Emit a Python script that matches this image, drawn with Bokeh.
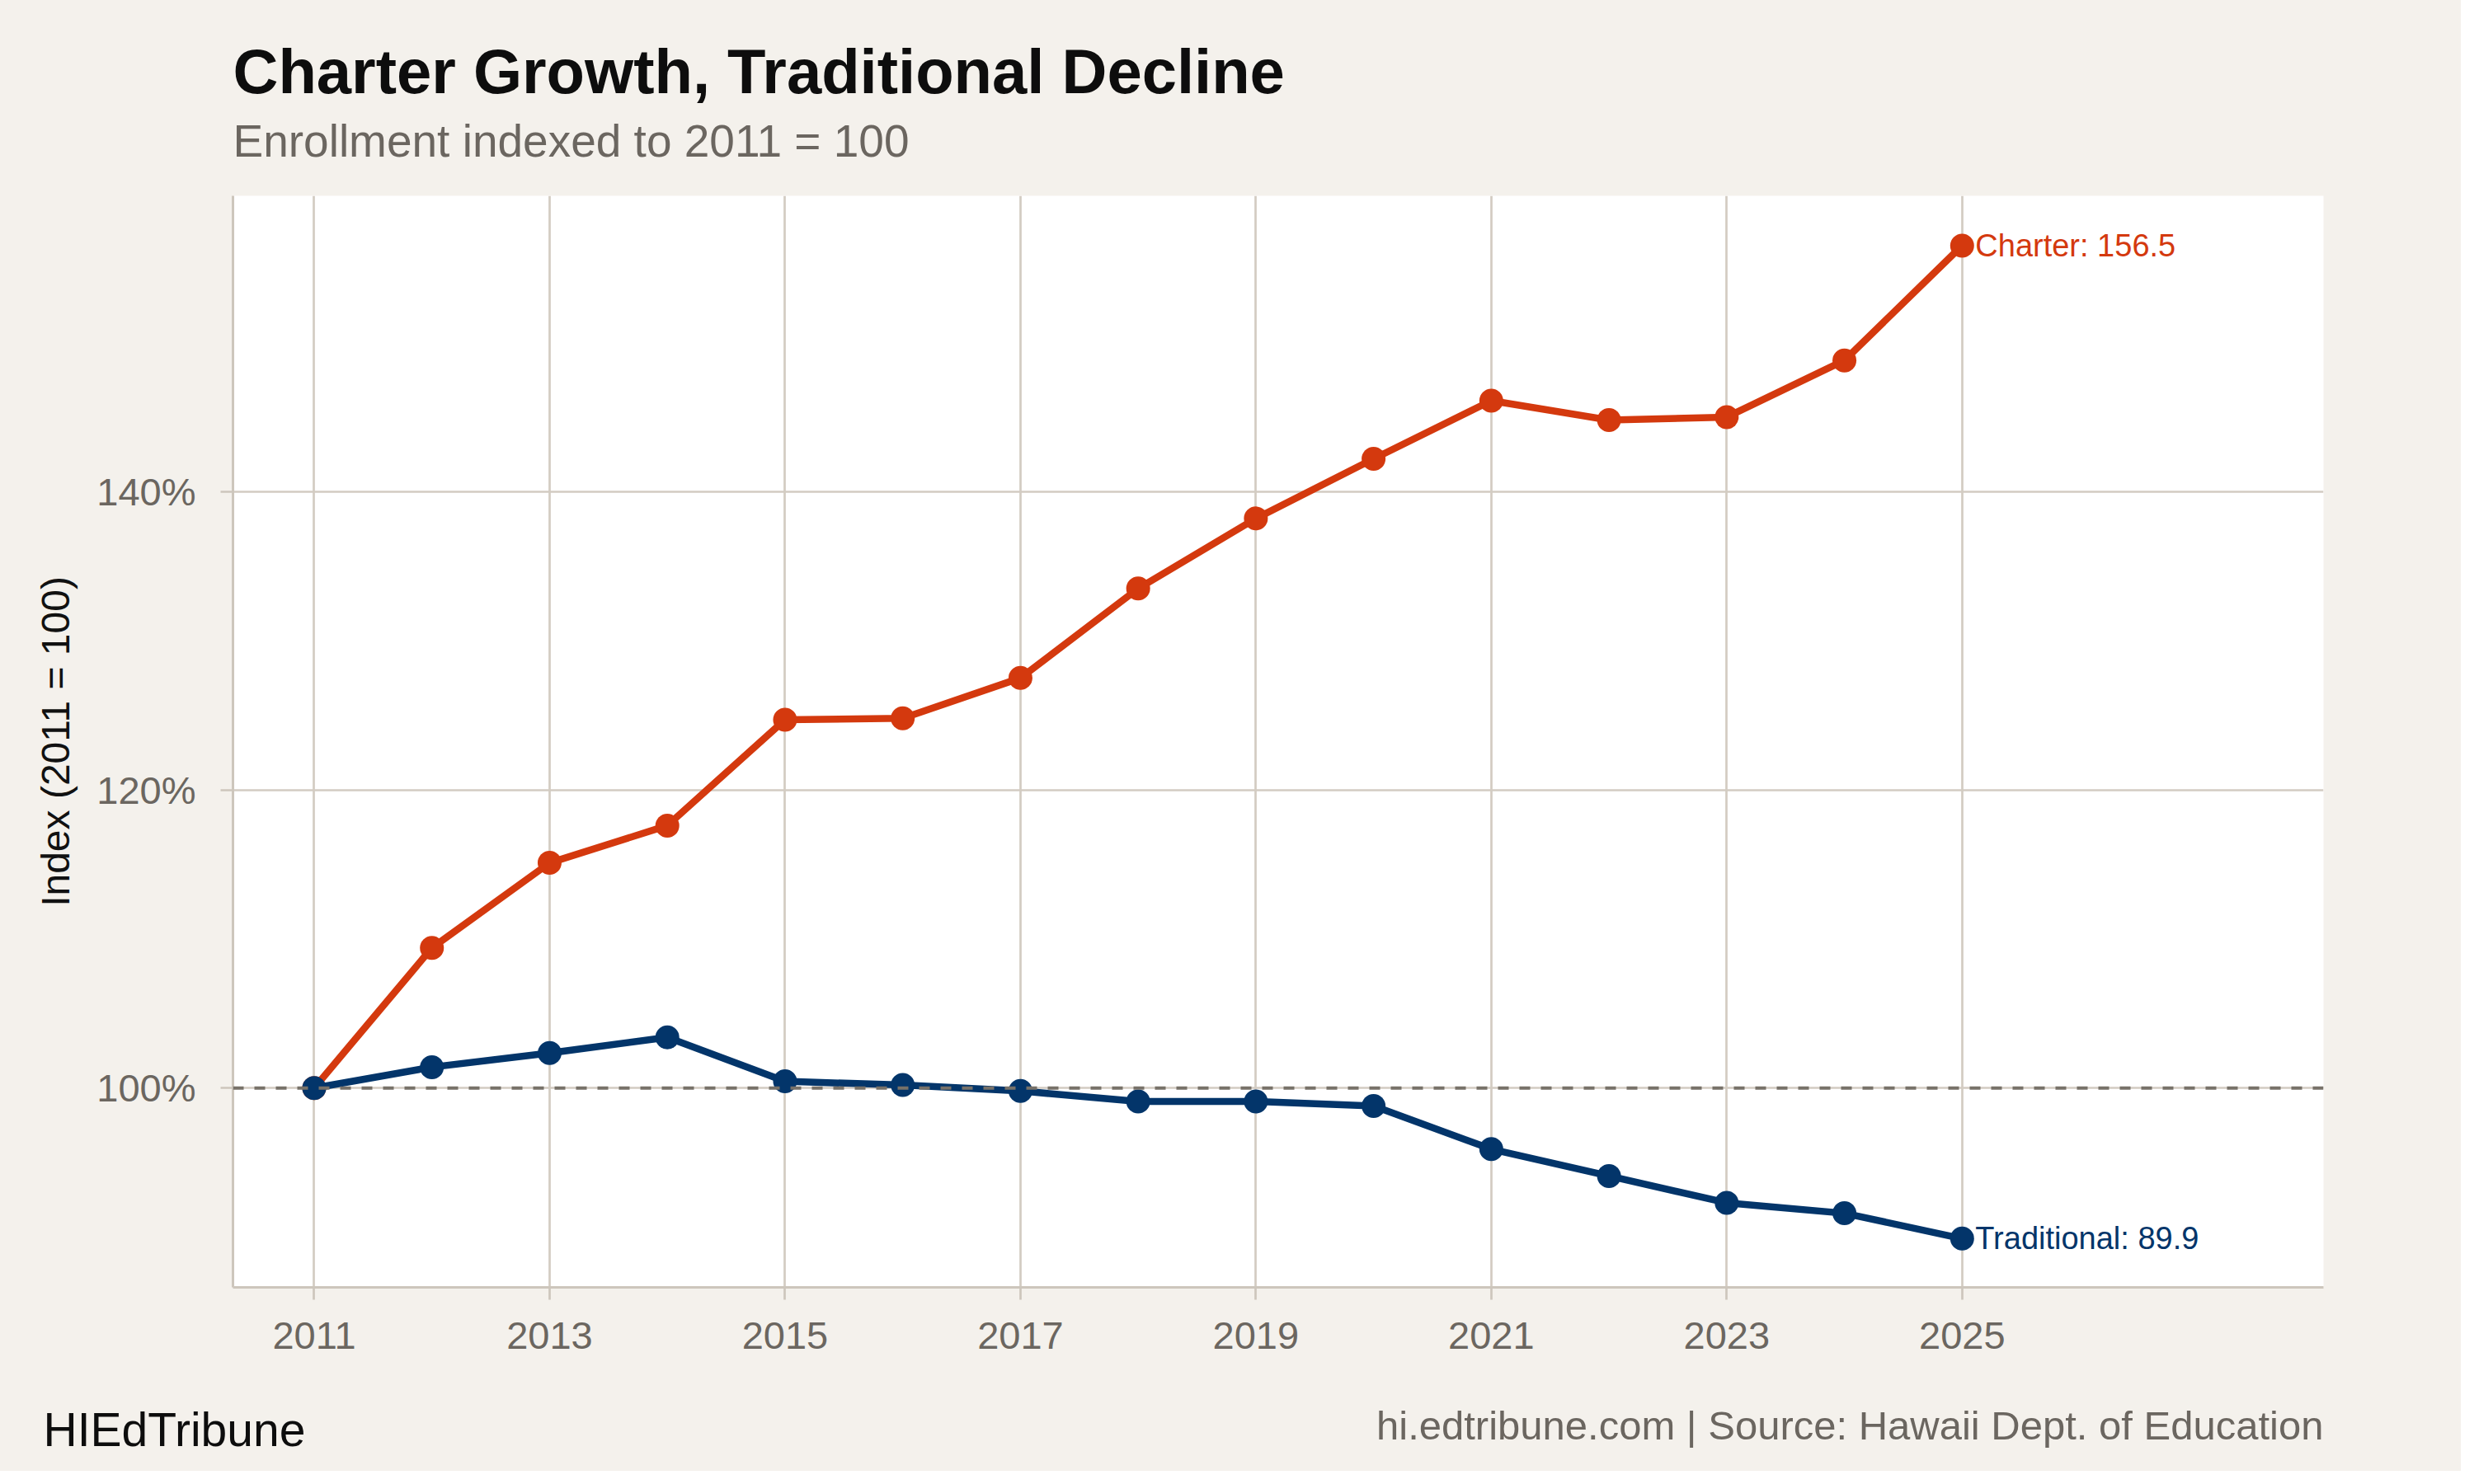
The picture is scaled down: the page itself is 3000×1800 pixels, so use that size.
from bokeh.plotting import figure
from bokeh.models import Range1d, FixedTicker, Span, Label
from bokeh.layouts import column, row
from bokeh.core.properties import value
from bokeh.embed import file_html
from bokeh.resources import INLINE

# ---- data ----
years = [2011, 2012, 2013, 2014, 2015, 2016, 2017, 2018, 2019, 2020, 2021, 2022, 2023, 2024, 2025]
charter = [100.0, 109.4, 115.1, 117.6, 124.7, 124.8, 127.5, 133.5, 138.2, 142.2, 146.1, 144.8, 145.0, 148.8, 156.5]
traditional = [100.0, 101.4, 102.35, 103.4, 100.45, 100.2, 99.8, 99.1, 99.1, 98.8, 95.9, 94.1, 92.3, 91.6, 89.9]
x_ticks = [2011, 2013, 2015, 2017, 2019, 2021, 2023, 2025]
x_tick_labels = ["2011", "2013", "2015", "2017", "2019", "2021", "2023", "2025"]
y_ticks = [100, 120, 140]
y_tick_labels = ["100%", "120%", "140%"]
title_text = "Charter Growth, Traditional Decline"
subtitle_text = "Enrollment indexed to 2011 = 100"
y_label = "Index (2011 = 100)"
brand_text = "HIEdTribune"
source_text = "hi.edtribune.com | Source: Hawaii Dept. of Education"

FONT = "Liberation Sans"
BG = "#f4f1ec"
GRID = "#d3ccc2"
AXIS = "#cdc6bc"
MUTED = "#6b6660"
C_CHARTER = "#d4390e"
C_TRAD = "#03356a"

W = 2984
TOTAL_H = 1784
HEAD_H = 237
FRAME_LEFT = 282
FRAME_RIGHT = 2817
FRAME_H = 1324
MAIN_BOTTOM_BORDER = 130
MAIN_H = FRAME_H + MAIN_BOTTOM_BORDER
FOOT_H = TOTAL_H - HEAD_H - MAIN_H


def text_panel(height, y_top, x0, x1, left, right):
    f = figure(width=W, height=height, output_backend="svg", toolbar_location=None,
               x_range=Range1d(x0, x1), y_range=Range1d(y_top + height, y_top),
               x_axis_type=None, y_axis_type=None,
               min_border=0, min_border_left=left, min_border_right=right,
               min_border_top=0, min_border_bottom=0,
               background_fill_color=BG, border_fill_color=BG, outline_line_color=None)
    return f


# ---- header (frame aligned with the chart frame) ----
head = text_panel(HEAD_H, 0, FRAME_LEFT, FRAME_RIGHT, FRAME_LEFT, W - FRAME_RIGHT)
head.add_layout(Label(x=FRAME_LEFT, y=86, text=title_text,
                      text_font=FONT, text_font_size="76px", text_font_style="bold",
                      text_color="#0d0d0d", text_baseline="alphabetic", text_align="left"))
head.add_layout(Label(x=FRAME_LEFT, y=170, text=subtitle_text,
                      text_font=FONT, text_font_size="55px",
                      text_color=MUTED, text_baseline="alphabetic", text_align="left"))

# ---- main chart ----
p = figure(
    width=W, height=MAIN_H,
    output_backend="svg", toolbar_location=None,
    x_range=Range1d(2010.31, 2028.07), y_range=Range1d(86.63, 159.84),
    min_border_left=FRAME_LEFT, min_border_right=W - FRAME_RIGHT,
    min_border_top=0, min_border_bottom=MAIN_BOTTOM_BORDER,
    background_fill_color="white", border_fill_color=BG, outline_line_color=None,
)

p.xaxis.ticker = FixedTicker(ticks=x_ticks)
p.xaxis.major_label_overrides = dict(zip(x_ticks, x_tick_labels))
p.yaxis.ticker = FixedTicker(ticks=y_ticks)
p.yaxis.major_label_overrides = dict(zip(y_ticks, y_tick_labels))
for ax in (p.xaxis, p.yaxis):
    ax.axis_line_color = AXIS
    ax.axis_line_width = 3
    ax.major_tick_line_color = AXIS
    ax.major_tick_line_width = 2.7
    ax.major_tick_out = 15
    ax.major_tick_in = 0
    ax.minor_tick_line_color = None
    ax.major_label_text_font = FONT
    ax.major_label_text_font_size = "47px"
    ax.major_label_text_color = MUTED
p.xaxis.major_label_standoff = 27
p.yaxis.major_label_standoff = 30
p.yaxis.axis_label = y_label
p.yaxis.axis_label_text_font = FONT
p.yaxis.axis_label_text_font_size = "48px"
p.yaxis.axis_label_text_font_style = "normal"
p.yaxis.axis_label_text_color = "#111111"
p.yaxis.axis_label_standoff = 20

p.xgrid.ticker = FixedTicker(ticks=x_ticks)
p.ygrid.ticker = FixedTicker(ticks=y_ticks)
for g in (p.xgrid, p.ygrid):
    g.grid_line_color = GRID
    g.grid_line_width = 2.7

p.line(years, charter, line_color=C_CHARTER, line_width=8.5, line_join="round")
p.scatter(years, charter, size=29, fill_color=C_CHARTER, line_color=None)
p.line(years, traditional, line_color=C_TRAD, line_width=8.5, line_join="round")
p.scatter(years, traditional, size=29, fill_color=C_TRAD, line_color=None)

p.add_layout(Span(location=100, dimension="width", line_color="#777169",
                  line_width=4, line_dash="13 13"))

p.text(x=[years[-1]], y=[charter[-1]], text=[f"Charter: {charter[-1]}"],
       x_offset=16, text_align="left", text_baseline="middle",
       text_font=value(FONT), text_font_size="38px", text_color=C_CHARTER)
p.text(x=[years[-1]], y=[traditional[-1]], text=[f"Traditional: {traditional[-1]}"],
       x_offset=16, text_align="left", text_baseline="middle",
       text_font=value(FONT), text_font_size="38px", text_color=C_TRAD)

# ---- footer (own row, full-width frame) ----
foot_top = HEAD_H + MAIN_H
foot = text_panel(FOOT_H, foot_top, 0, W, 0, 0)
foot.add_layout(Label(x=52, y=1733, text=brand_text,
                      text_font=FONT, text_font_size="57px",
                      text_color="#0d0d0d", text_baseline="alphabetic", text_align="left"))
foot.add_layout(Label(x=FRAME_RIGHT, y=1728, text=source_text,
                      text_font=FONT, text_font_size="49px",
                      text_color=MUTED, text_baseline="alphabetic", text_align="right"))

layout = column(head, p, row(foot, spacing=0, styles={"background-color": BG}),
                spacing=0, styles={"background-color": BG})
open("out.html", "w").write(file_html(layout, INLINE))
